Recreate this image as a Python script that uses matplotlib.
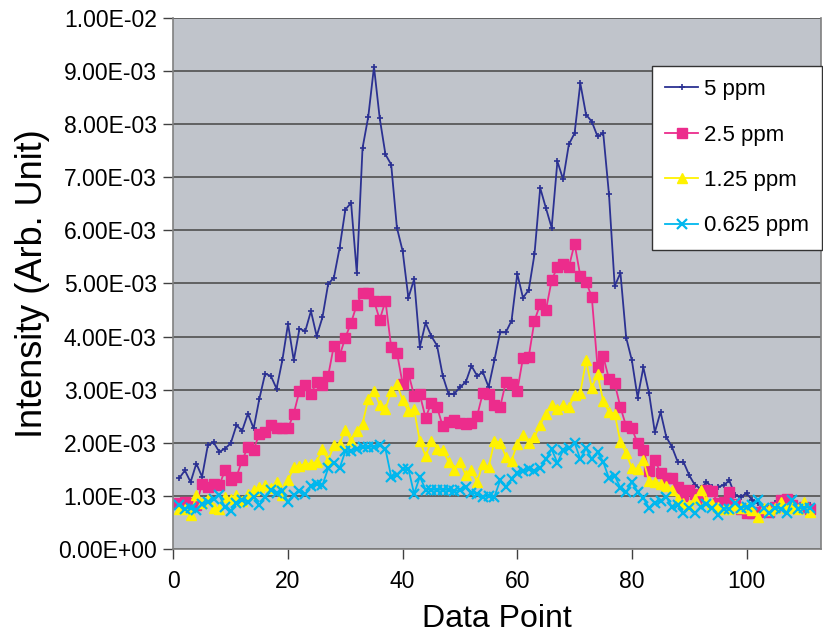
import matplotlib
matplotlib.use("Agg")
import matplotlib.pyplot as plt
import numpy as np

plt.rcParams["font.family"] = ["Liberation Sans", "DejaVu Sans"]

# intensities in units of 1e-3, data points 1..111
data_point = np.arange(1, 112)

ppm_5 = [
    1.33, 1.48, 1.26, 1.61, 1.36, 1.95, 2.01, 1.83, 1.89, 1.99,
    2.33, 2.23, 2.55, 2.27, 2.83, 3.30, 3.26, 3.02, 3.55, 4.24,
    3.55, 4.15, 4.10, 4.48, 4.01, 4.36, 4.99, 5.11, 5.67, 6.39,
    6.52, 5.20, 7.55, 8.14, 9.08, 8.11, 7.43, 7.24, 6.05, 5.61,
    4.73, 5.08, 3.80, 4.26, 4.01, 3.83, 3.26, 2.92, 2.92, 3.05,
    3.14, 3.45, 3.26, 3.33, 3.05, 3.55, 4.08, 4.08, 4.30, 5.18,
    4.73, 4.88, 5.55, 6.80, 6.42, 6.05, 7.30, 6.96, 7.62, 7.83,
    8.77, 8.18, 8.05, 7.77, 7.83, 6.68, 4.95, 5.20, 3.98, 3.55,
    2.85, 3.42, 2.93, 2.20, 2.58, 2.11, 1.92, 1.64, 1.64, 1.39,
    1.20, 1.14, 1.26, 1.17, 1.17, 1.20, 1.29, 1.01, 0.98, 1.05,
    0.92, 0.86, 0.79, 0.77, 0.86, 0.79, 0.77, 0.79, 0.79, 0.79,
    0.83,
]

ppm_2_5 = [
    0.86, 0.88, 0.86, 0.83, 1.23, 1.17, 1.23, 1.20, 1.48, 1.30,
    1.36, 1.67, 1.92, 1.87, 2.17, 2.20, 2.33, 2.27, 2.27, 2.27,
    2.55, 2.98, 3.08, 2.92, 3.14, 3.08, 3.26, 3.83, 3.64, 3.98,
    4.26, 4.60, 4.83, 4.83, 4.67, 4.32, 4.67, 3.80, 3.70, 3.11,
    3.31, 2.89, 2.91, 2.47, 2.75, 2.67, 2.31, 2.39, 2.42, 2.37,
    2.36, 2.37, 2.51, 2.94, 2.91, 2.72, 2.67, 3.14, 3.11, 2.98,
    3.60, 3.62, 4.30, 4.61, 4.50, 5.06, 5.31, 5.37, 5.31, 5.75,
    5.14, 5.03, 4.75, 3.43, 3.63, 3.20, 3.12, 2.67, 2.31, 2.27,
    1.99, 1.87, 1.47, 1.67, 1.44, 1.33, 1.33, 1.17, 0.99, 1.12,
    1.04, 0.95, 1.11, 1.09, 0.86, 0.89, 1.08, 0.85, 0.76, 0.67,
    0.67, 0.70, 0.72, 0.70, 0.80, 0.92, 0.95, 0.82, 0.78, 0.80,
    0.76,
]

ppm_1_25 = [
    0.76, 0.75, 0.64, 1.01, 0.86, 0.95, 0.78, 0.76, 0.97, 0.95,
    1.01, 0.91, 1.04, 1.11, 1.16, 1.20, 1.14, 1.26, 1.01, 1.29,
    1.54, 1.57, 1.60, 1.61, 1.64, 1.88, 1.67, 1.95, 1.98, 2.25,
    2.04, 2.23, 2.36, 2.82, 2.98, 2.71, 2.64, 2.97, 3.11, 2.80,
    2.59, 2.63, 2.03, 1.75, 2.03, 1.89, 1.86, 1.64, 1.48, 1.64,
    1.39, 1.48, 1.26, 1.61, 1.54, 2.03, 2.00, 1.74, 1.66, 1.98,
    2.15, 1.99, 2.11, 2.34, 2.55, 2.71, 2.64, 2.72, 2.67, 2.90,
    2.94, 3.55, 3.03, 3.30, 2.78, 2.58, 2.55, 2.01, 1.80, 1.52,
    1.51, 1.67, 1.28, 1.27, 1.23, 1.18, 1.12, 0.95, 0.87, 0.83,
    0.95, 1.12, 0.90, 0.85, 0.80, 0.75, 0.75, 0.82, 0.78, 0.78,
    0.74, 0.61, 0.78, 0.74, 0.78, 0.89, 0.78, 0.80, 0.76, 0.89,
    0.70,
]

ppm_0_625 = [
    0.83, 0.76, 0.78, 0.73, 0.84, 0.89, 0.95, 1.01, 0.79, 0.72,
    0.86, 0.93, 0.89, 0.98, 0.83, 0.98, 1.12, 1.06, 1.09, 0.89,
    1.01, 1.09, 1.04, 1.18, 1.23, 1.20, 1.52, 1.62, 1.52, 1.84,
    1.85, 1.89, 1.92, 1.92, 1.93, 1.95, 1.88, 1.36, 1.40, 1.50,
    1.51, 1.04, 1.36, 1.12, 1.12, 1.11, 1.12, 1.11, 1.09, 1.11,
    1.17, 1.06, 1.04, 0.98, 1.00, 0.98, 1.29, 1.17, 1.31, 1.43,
    1.47, 1.51, 1.46, 1.52, 1.69, 1.88, 1.62, 1.86, 1.90, 2.00,
    1.69, 1.90, 1.69, 1.83, 1.64, 1.33, 1.38, 1.15, 1.07, 1.26,
    1.08, 0.96, 0.77, 0.87, 0.91, 0.98, 0.79, 0.82, 0.68, 0.78,
    0.67, 0.80, 0.84, 0.78, 0.64, 0.76, 0.76, 0.86, 0.78, 0.80,
    0.82, 0.92, 0.78, 0.67, 0.78, 0.76, 0.67, 0.92, 0.76, 0.78,
    0.78,
]

series_labels = ["5 ppm", "2.5 ppm", "1.25 ppm", "0.625 ppm"]
y_ticks = np.arange(0, 0.0101, 0.001)
x_ticks = [0, 20, 40, 60, 80, 100]

fig = plt.figure(figsize=(8.23, 6.33), dpi=100)
ax = fig.add_axes([0.2107, 0.1327, 0.7869, 0.8389])
ax.set_facecolor("#C0C4CB")

styles = [
    dict(color="#2B3192", marker="+", markersize=5, linewidth=1.3, markeredgewidth=1.2),
    dict(color="#EC2C8C", marker="s", markersize=7, linewidth=1.3),
    dict(color="#FFF200", marker="^", markersize=7.5, linewidth=1.3),
    dict(color="#00B7EE", marker="x", markersize=7, linewidth=1.3, markeredgewidth=1.6),
]
for values, label, style in zip([ppm_5, ppm_2_5, ppm_1_25, ppm_0_625], series_labels, styles):
    ax.plot(data_point, np.array(values) * 1e-3, label=label, **style)

ax.set_xlim(0, 113)
ax.set_ylim(0, 0.01)
ax.set_yticks(y_ticks)
ax.set_yticklabels([f"{v:.2E}" for v in y_ticks])
ax.set_xticks(x_ticks)
ax.yaxis.grid(True, color="#505050", linewidth=1.2)
ax.set_axisbelow(True)
ax.tick_params(axis="both", labelsize=16.5, direction="out", length=7, width=1, color="#404040")
ax.tick_params(axis="y", pad=5)
ax.tick_params(axis="x", pad=8)
for name in ["left", "bottom", "right"]:
    ax.spines[name].set_color("#808080")
    ax.spines[name].set_linewidth(1.2)
ax.spines["top"].set_visible(False)

ax.set_xlabel("Data Point", fontsize=23, labelpad=8)
ax.set_ylabel("Intensity (Arb. Unit)", fontsize=26, labelpad=6)

legend = ax.legend(loc="upper right", bbox_to_anchor=(1.002, 0.91), borderaxespad=0,
                   fontsize=16, frameon=True, fancybox=False, framealpha=1,
                   edgecolor="#333333", labelspacing=1.1, handlelength=1.5,
                   handletextpad=0.25, borderpad=0.6)
legend.get_frame().set_linewidth(1.0)

fig.savefig("out.png", dpi=100)
